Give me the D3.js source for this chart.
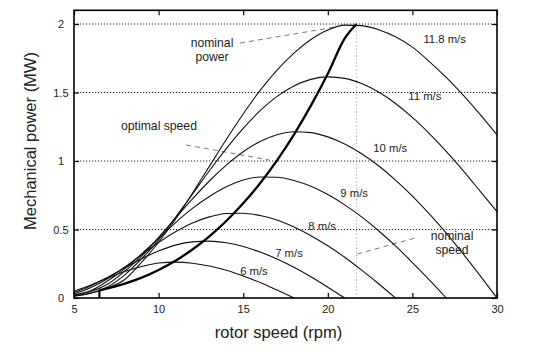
<!DOCTYPE html>
<html>
<head>
<meta charset="utf-8">
<script src="https://cdnjs.cloudflare.com/ajax/libs/d3/7.8.5/d3.min.js"></script>
<style>
body{margin:0;background:#fff;}
svg text{font-family:"Liberation Sans",Arial,Helvetica,sans-serif;fill:#222;}
</style>
</head>
<body>
<div id="chart"></div>
<script>
// rotor speed samples (rpm)
var rpm = [5,6,7,8,9,10,11,12,13,14,15,16,17,18,19,20,21,22,23,24,25,26,27,28,29,30];

// mechanical power (MW) per wind speed at each rpm above
var p6   = [0.050,0.095,0.146,0.194,0.230,0.255,0.262,0.254,0.233,0.202,0.161,0.113,0.058,0];
var p7   = [0.039,0.089,0.152,0.220,0.287,0.343,0.386,0.410,0.415,0.403,0.376,0.335,0.285,0.224,0.155,0.079,0];
var p8   = [0.029,0.076,0.142,0.226,0.316,0.405,0.483,0.547,0.592,0.617,0.619,0.602,0.569,0.518,0.455,0.381,0.297,0.203,0.104,0];
var p9   = [0.022,0.054,0.126,0.213,0.322,0.436,0.550,0.654,0.741,0.812,0.861,0.883,0.881,0.857,0.815,0.755,0.680,0.592,0.491,0.380,0.259,0.132,0];
var p10  = [0.020,0.047,0.102,0.196,0.306,0.442,0.583,0.723,0.854,0.970,1.068,1.143,1.192,1.214,1.207,1.176,1.124,1.053,0.965,0.861,0.744,0.614,0.474,0.322,0.163,0];
var p11  = [0.015,0.037,0.082,0.169,0.287,0.424,0.589,0.758,0.929,1.091,1.238,1.367,1.472,1.548,1.596,1.614,1.603,1.565,1.503,1.420,1.318,1.200,1.070,0.930,0.780,0.630];
var p118 = [0.014,0.035,0.073,0.135,0.261,0.407,0.575,0.765,0.961,1.157,1.343,1.515,1.664,1.788,1.887,1.957,1.992,1.988,1.958,1.907,1.831,1.726,1.610,1.480,1.340,1.190];

var windSpeeds = ["6 m/s","7 m/s","8 m/s","9 m/s","10 m/s","11 m/s","11.8 m/s"];
var windPower = [p6,p7,p8,p9,p10,p11,p118];

// optimal speed trajectory (thick line)
var optRpm = [6.5,7,8,9,10,11,12,13,14,15,16,17,18,19,20,21,21.7];
var optPow = [0.056,0.070,0.105,0.149,0.205,0.272,0.354,0.450,0.562,0.691,0.838,1.005,1.193,1.404,1.637,1.895,2.0];
var minRpm = 6.5;
var nominalRpm = 21.7;
var nominalPow = 2.0;

var xTicks = [5,10,15,20,25,30];
var yTicks = [0,0.5,1,1.5,2];
var yLabels = ["0","0.5","1","1.5","2"];
var gridY = [0.5,1,1.5,2];

var w = 541, h = 361;
var svg = d3.select("#chart").append("svg").attr("width",w).attr("height",h);

var x = d3.scaleLinear().domain([5,30]).range([74,497]);
var y = d3.scaleLinear().domain([0,2.1]).range([298,10.3]);

// dotted grid
svg.selectAll(".gridy").data(gridY).enter().append("line")
    .attr("x1",x(5)).attr("x2",x(30))
    .attr("y1",function(d){return y(d)}).attr("y2",function(d){return y(d)})
    .attr("stroke","#222").attr("stroke-width",1.2).attr("stroke-dasharray","1.2,1.8");

svg.append("line")
    .attr("x1",x(nominalRpm)).attr("x2",x(nominalRpm))
    .attr("y1",y(0)).attr("y2",y(nominalPow))
    .attr("stroke","#999").attr("stroke-width",1).attr("stroke-dasharray","1,2.5");

// annotation leaders (data coords)
var leaders = [
    [[14.82,1.861],[20.44,1.978]],
    [[11.63,1.117],[16.55,1.007]],
    [[21.75,0.321],[25.36,0.445]]
];
svg.selectAll(".leader").data(leaders).enter().append("line")
    .attr("x1",function(d){return x(d[0][0])}).attr("y1",function(d){return y(d[0][1])})
    .attr("x2",function(d){return x(d[1][0])}).attr("y2",function(d){return y(d[1][1])})
    .attr("stroke","#777").attr("stroke-width",1).attr("stroke-dasharray","5,4");

var line = d3.line()
    .x(function(d){return x(d[0])})
    .y(function(d){return y(d[1])})
    .curve(d3.curveMonotoneX);

windPower.forEach(function(vals){
    var pts = vals.map(function(v,i){return [rpm[i],v]});
    svg.append("path").attr("d",line(pts))
        .attr("fill","none").attr("stroke","#111").attr("stroke-width",1.1);
});

// thick optimal-speed line, starting with a vertical step at minimum speed
svg.append("line")
    .attr("x1",x(minRpm)).attr("x2",x(minRpm))
    .attr("y1",y(0)).attr("y2",y(optPow[0]))
    .attr("stroke","#000").attr("stroke-width",2.2);
svg.append("path").attr("d",line(optRpm.map(function(r,i){return [r,optPow[i]]})))
    .attr("fill","none").attr("stroke","#000").attr("stroke-width",2.3);

// frame
svg.append("rect").attr("x",x(5)).attr("y",y(2.1))
    .attr("width",x(30)-x(5)).attr("height",y(0)-y(2.1))
    .attr("fill","none").attr("stroke","#000").attr("stroke-width",1.6);

// axes with inward ticks
var gx = svg.append("g").attr("transform","translate(0,"+y(0)+")")
    .call(d3.axisBottom(x).tickValues(xTicks).tickSizeInner(-5).tickSizeOuter(0).tickPadding(7));
var gxTop = svg.append("g").attr("transform","translate(0,"+y(2.1)+")")
    .call(d3.axisTop(x).tickValues(xTicks).tickSizeInner(-5).tickSizeOuter(0).tickFormat(""));
var gy = svg.append("g").attr("transform","translate("+x(5)+",0)")
    .call(d3.axisLeft(y).tickValues(yTicks).tickSizeInner(-5).tickSizeOuter(0)
    .tickFormat(function(d,i){return yLabels[i]}));
var gyR = svg.append("g").attr("transform","translate("+x(30)+",0)")
    .call(d3.axisRight(y).tickValues(yTicks).tickSizeInner(-5).tickSizeOuter(0).tickFormat(""));

[gx,gxTop,gy,gyR].forEach(function(g){
    g.select(".domain").remove();
    g.selectAll(".tick line").attr("stroke","#000").attr("stroke-width",1.2);
    g.selectAll("text").attr("font-size",11).attr("fill","#333").attr("font-family",null);
});
gy.selectAll("text").attr("text-anchor","middle").attr("x",-13);

// wind speed labels
var speedLabelPos = [[14.82,0.168],[16.89,0.299],[18.85,0.496],[20.74,0.737],[22.69,1.066],[24.76,1.445],[25.65,1.858]];
svg.selectAll(".speedlbl").data(windSpeeds).enter().append("text")
    .attr("x",function(d,i){return x(speedLabelPos[i][0])})
    .attr("y",function(d,i){return y(speedLabelPos[i][1])})
    .attr("font-size",11.3)
    .text(function(d){return d});

// annotations
var notes = [
    {t:"nominal", x:212, y:47},
    {t:"power", x:212, y:61},
    {t:"optimal speed", x:159, y:130},
    {t:"nominal", x:452, y:240},
    {t:"speed", x:452, y:254}
];
svg.selectAll(".note").data(notes).enter().append("text")
    .attr("x",function(d){return d.x}).attr("y",function(d){return d.y})
    .attr("text-anchor","middle").attr("font-size",12.2)
    .text(function(d){return d.t});

// axis titles
svg.append("text").attr("x",278.5).attr("y",338)
    .attr("text-anchor","middle").attr("font-size",16.5)
    .text("rotor speed (rpm)");
svg.append("text").attr("transform","translate(36,141) rotate(-90)")
    .attr("text-anchor","middle").attr("font-size",16.5)
    .text("Mechanical power (MW)");
</script>
</body>
</html>
